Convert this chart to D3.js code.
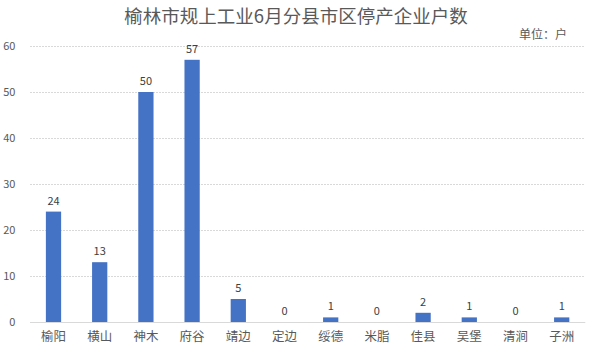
<!DOCTYPE html>
<html><head><meta charset="utf-8">
<script src="https://cdn.jsdelivr.net/npm/d3@7"></script>
<style>body{margin:0;background:#fff;}svg{display:block;}</style>
</head><body>
<svg id="c" width="591" height="364"></svg>
<script>
const categories = ["榆阳","横山","神木","府谷","靖边","定边","绥德","米脂","佳县","吴堡","清涧","子洲"];
const values = [24,13,50,57,5,0,1,0,2,1,0,1];
const yTicks = [0,10,20,30,40,50,60];
const title = "榆林市规上工业6月分县市区停产企业户数";
const unitLabel = "单位：户";

const W=591,H=364;
const m={left:30.4,right:6.2,top:46,bottom:42};
const svg=d3.select("#c");
const font="'Microsoft YaHei','Noto Sans CJK SC',sans-serif";
const x=d3.scaleBand().domain(categories).range([m.left,W-m.right]).paddingInner(0.67).paddingOuter(0.335);
const y=d3.scaleLinear().domain([0,60]).range([H-m.bottom,m.top]);

svg.append("text").attr("x",296).attr("y",23).attr("text-anchor","middle")
  .attr("font-family",font).attr("font-size",18.5).attr("fill","#595959").text(title);
svg.append("text").attr("x",567).attr("y",39).attr("text-anchor","end")
  .attr("font-family",font).attr("font-size",12).attr("fill","#595959").text(unitLabel);

const yAxis=d3.axisLeft(y).tickValues(yTicks).tickSize(-(W-m.left-m.right)).tickFormat(d3.format("d"));
const gy=svg.append("g").attr("transform",`translate(${m.left},0)`).call(yAxis);
gy.select(".domain").remove();
gy.selectAll(".tick line").attr("stroke","#d9d9d9").attr("stroke-dasharray","2,1").attr("shape-rendering","crispEdges");
gy.selectAll(".tick text").attr("x",-15).attr("font-family",font).attr("font-size",11).attr("fill","#595959");

svg.append("g").selectAll("rect").data(values).join("rect")
  .attr("x",(d,i)=>x(categories[i])).attr("width",x.bandwidth())
  .attr("y",d=>y(d)).attr("height",d=>y(0)-y(d)).attr("fill","#4472c4");

svg.append("g").selectAll("text").data(values).join("text")
  .attr("x",(d,i)=>x(categories[i])+x.bandwidth()/2).attr("y",d=>y(d)-7)
  .attr("text-anchor","middle").attr("font-family",font).attr("font-size",11).attr("fill","#404040").text(d=>d);

const xAxis=d3.axisBottom(x).tickSize(0).tickPadding(10);
const gx=svg.append("g").attr("transform",`translate(0,${y(0)})`).call(xAxis);
gx.select(".domain").attr("stroke","#d9d9d9");
gx.selectAll(".tick text").attr("font-family",font).attr("font-size",12.5).attr("fill","#595959");
</script>
</body></html>
